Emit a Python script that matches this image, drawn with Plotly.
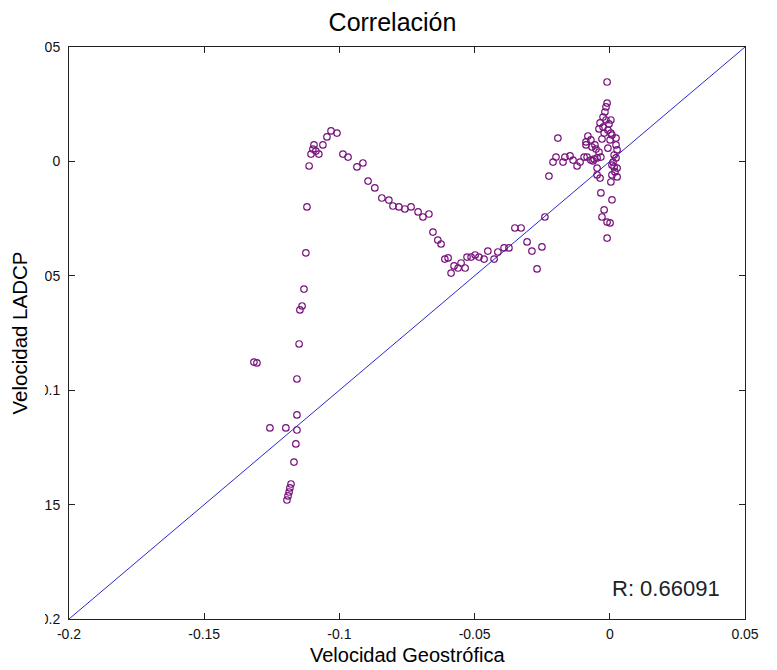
import plotly.graph_objects as go

# Velocidad Geostrófica (x) vs Velocidad LADCP (y)
vel_geo = [
    -0.1194, -0.1190, -0.1186, -0.1183, -0.1179, -0.1168, -0.1161, -0.1157, -0.1198, -0.1257,
    -0.1157, -0.1157, -0.1149, -0.1316, -0.1305, -0.1146, -0.1138, -0.1131, -0.1124, -0.1120,
    -0.1112, -0.1105, -0.1098, -0.1094, -0.1087, -0.1076, -0.1061, -0.1046, -0.1031, -0.1009,
    -0.0987, -0.0968, -0.0935, -0.0913, -0.0894, -0.0869, -0.0843, -0.0817, -0.0802, -0.0780,
    -0.0758, -0.0735, -0.0709, -0.0691, -0.0669, -0.0654, -0.0636, -0.0624, -0.0610, -0.0598,
    -0.0587, -0.0576, -0.0561, -0.0550, -0.0535, -0.0528, -0.0513, -0.0498, -0.0484, -0.0465,
    -0.0451, -0.0428, -0.0414, -0.0391, -0.0373, -0.0351, -0.0328, -0.0306, -0.0288, -0.0269,
    -0.0251, -0.0240, -0.0225, -0.0210, -0.0199, -0.0192, -0.0173, -0.0166, -0.0147, -0.0136,
    -0.0121, -0.0110, -0.0095, -0.0084, -0.0070, -0.0062, -0.0081, -0.0088, -0.0070, -0.0088,
    -0.0066, -0.0055, -0.0051, -0.0040, -0.0047, -0.0058, -0.0033, -0.0047, -0.0047, -0.0036,
    -0.0033, -0.0021, -0.0029, -0.0010, 0.0001, -0.0010, 0.0008, 0.0004, 0.0008, 0.0019,
    0.0027, 0.0027, 0.0016, 0.0012, 0.0023, 0.0016, 0.0027, 0.0023, 0.0023, 0.0008,
    0.0004, -0.0007, -0.0021, -0.0029, -0.0040, -0.0025, -0.0036, -0.0003, 0.0004, -0.0014,
    -0.0018, -0.0014, -0.0010, -0.0010, -0.0025, 0.0001, -0.0007, 0.0008,
]
vel_ladcp = [
    -0.1480, -0.1462, -0.1445, -0.1427, -0.1410, -0.1314, -0.1235, -0.1174, -0.1165, -0.1165,
    -0.1108, -0.0951, -0.0798, -0.0877, -0.0881, -0.0649, -0.0632, -0.0558, -0.0400, -0.0199,
    -0.0020, 0.0032, 0.0054, 0.0072, 0.0045, 0.0032, 0.0072, 0.0107, 0.0133, 0.0124,
    0.0032, 0.0019, -0.0024, -0.0007, -0.0086, -0.0116, -0.0160, -0.0169, -0.0195, -0.0199,
    -0.0208, -0.0199, -0.0221, -0.0243, -0.0230, -0.0309, -0.0344, -0.0361, -0.0427, -0.0422,
    -0.0488, -0.0457, -0.0466, -0.0444, -0.0466, -0.0418, -0.0418, -0.0409, -0.0418, -0.0427,
    -0.0392, -0.0427, -0.0396, -0.0378, -0.0378, -0.0291, -0.0291, -0.0352, -0.0392, -0.0470,
    -0.0374, -0.0243, -0.0064, -0.0003, 0.0019, 0.0102, -0.0003, 0.0019, 0.0024, 0.0006,
    -0.0020, -0.0003, 0.0019, 0.0019, 0.0006, 0.0002, 0.0111, 0.0085, 0.0094, 0.0072,
    0.0063, 0.0072, 0.0054, 0.0041, 0.0015, 0.0010, 0.0019, -0.0029, -0.0059, -0.0073,
    -0.0138, -0.0212, -0.0243, -0.0265, -0.0269, -0.0335, -0.0168, -0.0090, -0.0059, -0.0046,
    -0.0068, -0.0029, -0.0024, -0.0003, 0.0015, 0.0028, 0.0050, 0.0072, 0.0102, 0.0115,
    0.0124, 0.0137, 0.0124, 0.0098, 0.0142, 0.0150, 0.0168, 0.0164, 0.0181, 0.0181,
    0.0216, 0.0238, 0.0255, 0.0347, 0.0194, 0.0094, 0.0058, -0.0016,
]

# identity reference line
line_x = [-0.2, 0.05]
line_y = [-0.2, 0.05]

tick_vals = [-0.2, -0.15, -0.1, -0.05, 0, 0.05]
tick_text = ["-0.2", "-0.15", "-0.1", "-0.05", "0", "0.05"]

x_title = "Velocidad Geostrófica"
y_title = "Velocidad LADCP"
r_text = "R: 0.66091"

FONT = "Liberation Sans, Arial, sans-serif"
PURPLE = "rgb(120,20,125)"
BLUE = "rgb(40,40,205)"

fig = go.Figure()
fig.add_trace(go.Scatter(
    x=line_x, y=line_y, mode="lines",
    line=dict(color=BLUE, width=1), hoverinfo="skip", showlegend=False,
))
fig.add_trace(go.Scatter(
    x=vel_geo, y=vel_ladcp, mode="markers",
    marker=dict(symbol="circle-open", size=6.5, color=PURPLE, line=dict(width=1.2)),
    showlegend=False,
))

axis_common = dict(
    range=[-0.2, 0.05], tickvals=tick_vals, ticktext=tick_text,
    ticks="inside", ticklen=6, tickcolor="#222", tickwidth=1,
    showline=True, linecolor="#222", linewidth=1, mirror="ticks",
    showgrid=False, zeroline=False, automargin=False,
    tickfont=dict(family=FONT, size=14, color="#111"),
)

fig.update_layout(
    width=769, height=662,
    margin=dict(l=61, r=32, t=39, b=51),
    paper_bgcolor="white", plot_bgcolor="white",
    title=dict(text="Correlación", x=0.5, xanchor="center", y=0.979, yanchor="middle",
               font=dict(family=FONT, size=25, color="black")),
    xaxis=dict(**axis_common, ticklabelstandoff=2),
    yaxis=dict(**axis_common, ticklabelstandoff=5,
               title=dict(text=y_title, font=dict(family=FONT, size=20.5, color="black"), standoff=0)),
    annotations=[
        dict(text=r_text, x=0.0415, y=-0.1865, xref="x", yref="y",
             xanchor="right", yanchor="middle", showarrow=False,
             font=dict(family=FONT, size=22, color="#222")),
        dict(text=x_title, x=0.5, y=-0.063, xref="paper", yref="paper",
             xanchor="center", yanchor="middle", showarrow=False,
             font=dict(family=FONT, size=20, color="black")),
    ],
    shapes=[dict(
        type="rect", xref="paper", yref="paper",
        x0=-0.0725, x1=-0.0355, y0=-0.03, y1=1.03,
        fillcolor="white", line=dict(width=0), layer="above",
    )],
)

fig.write_html("out.html")
